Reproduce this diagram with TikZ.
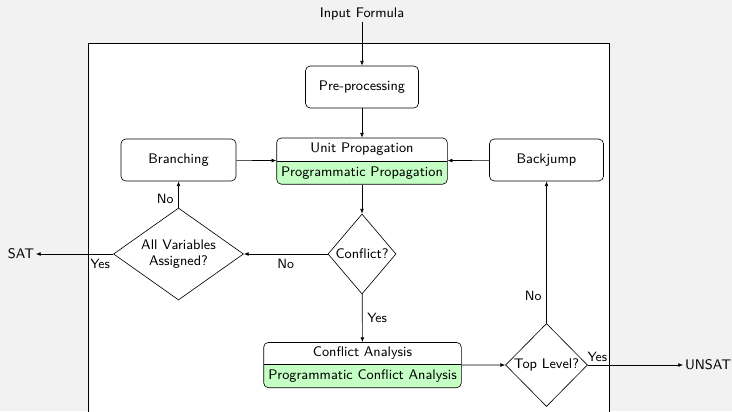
\documentclass[tikz,border=0pt]{standalone}
\usetikzlibrary{shapes.geometric,arrows.meta,fit,backgrounds}
\definecolor{pagegray}{RGB}{242,242,242}
\definecolor{progreen}{RGB}{196,255,196}
\def\u{0.633pt}
\begin{document}
\begin{tikzpicture}[x=0.633pt,y=-0.633pt,
  font=\sffamily\fontsize{8.8}{10.5}\selectfont,
  every node/.style={inner sep=1pt},
  arr/.style={-{Latex[length=3pt,width=2.4pt]}, line width=0.4pt},
  procbox/.style={draw, rounded corners=3pt, minimum width=113*\u, minimum height=42*\u, line width=0.4pt},
  parttext/.style={minimum height=22.5*\u, inner sep=0pt},
  decision/.style={draw, diamond, inner sep=0pt, line width=0.4pt},
  lbl/.style={font=\sffamily\fontsize{8.5}{10}\selectfont}]
\useasboundingbox (0,0) rectangle (732,411);

% nodes
\node (in) at (362,14) {Input Formula};
\node[procbox] (pre) at (362,87) {Pre-processing};
\node[procbox, minimum width=115*\u] (branch) at (178.5,160) {Branching};
\node[procbox, minimum width=114*\u] (back) at (546.5,160) {Backjump};

\node[parttext, minimum width=170*\u] (upT) at (362,149.5) {Unit Propagation};
\node[parttext, minimum width=170*\u, anchor=north] (upB) at (upT.south) {Programmatic Propagation};
\node[fit=(upT)(upB), inner sep=0pt] (up) {};

\node[parttext, minimum width=197*\u, minimum height=21.5*\u] (caT) at (362.5,353.5) {Conflict Analysis};
\node[parttext, minimum width=197*\u, minimum height=22.5*\u, anchor=north] (caB) at (caT.south) {Programmatic Conflict Analysis};
\node[fit=(caT)(caB), inner sep=0pt] (ca) {};

\node[decision, aspect=0.85, minimum width=68*\u, minimum height=80*\u] (conf) at (362,254) {Conflict?};
\node[decision, aspect=1.4, minimum width=130*\u, minimum height=92*\u, align=center] (all) at (178.5,254) {All Variables\\Assigned?};
\node[decision, aspect=1.0, minimum width=82*\u, minimum height=83*\u] (top) at (546.5,365) {Top Level?};

\node (sat) at (21,254) {SAT};
\node (unsat) at (708,365) {UNSAT};

% backgrounds, frame and green parts
\begin{scope}[on background layer]
  \fill[pagegray] (0,0) rectangle (732,411);
  \fill[white] (88,43) rectangle (609,420);
  \begin{scope}
    \clip[rounded corners=3pt] (upT.north west) rectangle (upB.south east);
    \fill[progreen] (upB.north west) rectangle (upB.south east);
  \end{scope}
  \begin{scope}
    \clip[rounded corners=3pt] (caT.north west) rectangle (caB.south east);
    \fill[progreen] (caB.north west) rectangle (caB.south east);
  \end{scope}
\end{scope}
\draw[line width=0.4pt] (88,420) -- (88,43) -- (609,43) -- (609,420);
\draw[rounded corners=3pt, line width=0.4pt] (upT.north west) rectangle (upB.south east);
\draw[line width=0.4pt] (upB.north west) -- (upB.north east);
\draw[rounded corners=3pt, line width=0.4pt] (caT.north west) rectangle (caB.south east);
\draw[line width=0.4pt] (caB.north west) -- (caB.north east);

% connectors
\draw[arr] (in) -- (pre);
\draw[arr] (pre) -- (up);
\draw[arr] (branch) -- (up);
\draw[arr] (back) -- (up);
\draw[arr] (up) -- (conf);
\draw[arr] (conf) -- node[lbl, below=2pt] {No} (all);
\draw[arr] (all) -- node[lbl, left=2pt, pos=0.35] {No} (branch);
\draw[arr] (all) -- node[lbl, below=2pt, pos=0.17] {Yes} (sat);
\draw[arr] (conf) -- node[lbl, right=2pt] {Yes} (ca);
\draw[arr] (ca) -- (top);
\draw[arr] (top) -- node[lbl, left=2pt, pos=0.19] {No} (back);
\draw[arr] (top) -- node[lbl, above=1pt, pos=0.1] {Yes} (unsat);
\end{tikzpicture}
\end{document}
